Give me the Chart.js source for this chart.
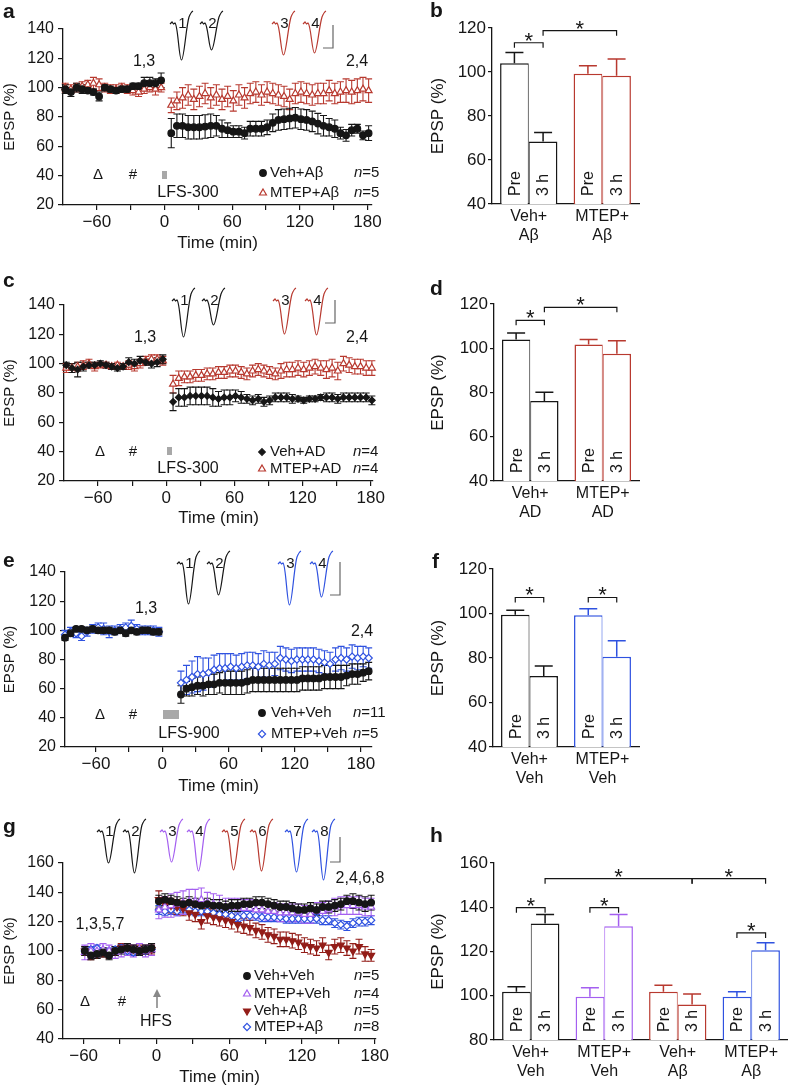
<!DOCTYPE html>
<html>
<head>
<meta charset="utf-8">
<script src="https://cdn.jsdelivr.net/npm/chart.js@4.4.1/dist/chart.umd.min.js"></script>
<style>
  body { margin: 0; background: #fff; width: 788px; height: 1089px; position: relative; overflow: hidden; }
  canvas { position: absolute; }
</style>
</head>
<body>
<canvas id="ca" width="400" height="268" style="left:0;top:0"></canvas>
<canvas id="cb" width="388" height="268" style="left:400px;top:0"></canvas>
<canvas id="cc" width="400" height="270" style="left:0;top:270px"></canvas>
<canvas id="cd" width="388" height="270" style="left:400px;top:270px"></canvas>
<canvas id="ce" width="400" height="270" style="left:0;top:540px"></canvas>
<canvas id="cf" width="388" height="270" style="left:400px;top:540px"></canvas>
<canvas id="cg" width="400" height="279" style="left:0;top:810px"></canvas>
<canvas id="ch" width="388" height="279" style="left:400px;top:810px"></canvas>
<script>
// --- time points (min) ---
const tPre = [-88, -83, -78, -73, -68, -63, -58, -53, -48, -43, -38, -33, -28, -23, -18, -13, -8, -3];
const tPost = [6, 11, 16, 21, 26, 31, 36, 41, 46, 51, 56, 61, 66, 71, 76, 81, 86, 91, 96, 101, 106, 111, 116, 121, 126, 131, 136, 141, 146, 151, 156, 161, 166, 171, 176, 181];
const ePost = [17, 22, 27, 32, 37, 42, 47, 52, 57, 62, 67, 72, 77, 82, 87, 92, 97, 102, 107, 112, 117, 122, 127, 132, 137, 142, 147, 152, 157, 162, 167, 172, 177, 182, 187];
const gPre = [-59, -54, -49, -44, -39, -34, -29, -24, -19, -14, -9, -4];
const gPost = [2, 7, 12, 17, 22, 27, 32, 37, 42, 47, 52, 57, 62, 67, 72, 77, 82, 87, 92, 97, 102, 107, 112, 117, 122, 127, 132, 137, 142, 147, 152, 157, 162, 167, 172, 177];

// --- panel a: Veh+Aβ / MTEP+Aβ, LFS-300 ---
const aVehPre = [99, 97, 100, 99, 98, 97, 94, 100, 99, 98, 99, 99, 101, 101, 103, 103, 103, 105];
const aVehPreErr = [3, 3, 3, 3, 2, 2, 3, 2, 2, 2, 2, 2, 2, 2, 4, 4, 3, 5];
const aVehPost = [69, 74, 74, 73, 73, 73, 73.5, 74, 74, 72, 71, 70, 70, 69, 72, 72, 72, 73, 76, 78, 78.5, 79, 79.5, 78.5, 78, 77, 75.5, 74, 73, 72, 69, 67.5, 71, 72, 67.5, 69];
const aVehPostErr = [10, 8, 8, 8, 8, 8, 8, 8, 7, 6, 5, 4, 4, 4, 5, 5, 5, 5, 6, 7, 7, 7, 7, 7, 7, 7, 7, 7, 6, 6, 4, 4, 4, 3, 3, 5];
const aMtepPre = [100, 99, 100, 101, 102, 103, 102, 100, 99, 99, 100, 99, 98, 97, 99, 100, 99, 100];
const aMtepPreErr = [3, 3, 3, 3, 3, 4, 4, 3, 3, 3, 3, 3, 3, 3, 3, 3, 4, 3];
const aMtepPost = [88, 91, 93, 95, 92, 94, 96, 93, 95, 92, 94, 91, 95, 93, 96, 97, 95, 97, 96, 95, 94, 92, 96, 97, 96, 95, 96, 96, 98, 96, 97, 98, 97, 98, 99, 98];
const aMtepPostErr = [5, 6, 7, 7, 7, 7, 7, 7, 7, 7, 7, 7, 7, 7, 7, 7, 7, 7, 7, 7, 7, 7, 7, 7, 7, 7, 7, 7, 7, 7, 7, 8, 8, 8, 8, 8];

// --- panel c: Veh+AD / MTEP+AD ---
const cVehPre = [99, 97, 96, 98, 99, 99, 100, 99, 98, 97, 98, 101, 100, 102, 101, 100, 101, 103];
const cVehPreErr = [2, 3, 5, 3, 2, 2, 2, 2, 2, 2, 2, 3, 3, 3, 2, 3, 3, 3];
const cVehPost = [74, 77, 77, 78, 78, 78, 78, 77, 76, 77, 77, 78, 77, 76, 75, 76, 74, 75, 77, 77, 77, 76, 76, 75, 76, 76, 77, 77, 77, 76, 77, 77, 77, 77, 77, 75];
const cVehPostErr = [6, 6, 6, 6, 6, 6, 6, 6, 5, 5, 5, 4, 4, 3, 3, 3, 3, 3, 3, 3, 3, 3, 2, 2, 2, 2, 2, 3, 3, 3, 3, 3, 3, 3, 3, 3];
const cMtepPre = [97, 97, 98, 99, 100, 98, 99, 99, 98, 99, 98, 99, 98, 100, 102, 103, 103, 102];
const cMtepPreErr = [3, 3, 3, 3, 3, 3, 2, 2, 2, 2, 2, 3, 3, 3, 3, 3, 3, 3];
const cMtepPost = [86, 90, 91, 91, 92, 92, 93, 93, 94, 94, 95, 95, 94, 93, 95, 96, 95, 94, 93, 95, 96, 96, 97, 96, 97, 98, 97, 96, 97, 95, 100, 99, 98, 98, 97, 97];
const cMtepPostErr = [6, 5, 4, 4, 4, 4, 4, 4, 4, 4, 4, 4, 4, 4, 4, 4, 4, 4, 4, 5, 5, 5, 5, 5, 5, 5, 5, 6, 6, 6, 5, 5, 5, 5, 5, 5];

// --- panel e: Veh+Veh / MTEP+Veh, LFS-900 ---
const eVehPre = [95, 98, 101, 101, 100, 101, 100, 100, 100, 99, 100, 98, 100, 99, 100, 100, 99, 99];
const eVehPreErr = [2, 2, 1, 1, 2, 2, 2, 2, 2, 2, 2, 2, 2, 2, 2, 2, 2, 2];
const eVehPost = [56, 60, 61, 62, 62, 63, 63, 64, 64, 64, 64, 64, 65, 66, 66, 66, 66, 66, 66, 66, 66, 66, 67, 67, 67, 67, 68, 68, 68, 68, 69, 70, 70, 71, 72];
const eVehPostErr = [6, 5, 6, 6, 7, 7, 7, 7, 8, 8, 8, 8, 8, 8, 8, 8, 8, 8, 8, 8, 8, 8, 8, 8, 8, 8, 8, 8, 8, 8, 7, 7, 7, 6, 6];
const eMtepPre = [97, 99, 98, 96, 99, 101, 102, 101, 99, 100, 101, 102, 103, 101, 100, 100, 100, 99];
const eMtepPreErr = [3, 3, 3, 3, 3, 3, 3, 4, 4, 3, 3, 3, 4, 3, 3, 3, 3, 3];
const eMtepPost = [64, 66, 68, 70, 70, 71, 73, 74, 74, 75, 74, 75, 76, 76, 75, 77, 76, 77, 81, 80, 79, 80, 80, 80, 80, 79, 78, 77, 80, 81, 80, 82, 81, 82, 81];
const eMtepPostErr = [8, 10, 11, 12, 11, 10, 10, 10, 10, 9, 9, 9, 9, 9, 9, 9, 9, 8, 8, 8, 8, 8, 8, 8, 8, 8, 8, 8, 8, 8, 8, 8, 8, 7, 7];

// --- panel g: HFS, four groups ---
const gVehVehPre = [100, 97, 98, 99, 97, 100, 101, 102, 101, 100, 101, 102];
const gVehVehPreErr = [3, 3, 3, 3, 3, 3, 3, 3, 3, 3, 3, 3];
const gVehVehPost = [134, 135, 134, 133, 132, 133, 132, 131, 132, 131, 131, 130, 131, 131, 132, 132, 133, 133, 132, 131, 130, 130, 129, 128, 128, 129, 128, 130, 130, 131, 132, 134, 134, 133, 132, 133];
const gVehVehPostErr = [4, 4, 4, 4, 4, 4, 4, 4, 4, 4, 4, 4, 4, 4, 4, 4, 4, 4, 4, 4, 4, 4, 4, 4, 4, 4, 4, 4, 4, 4, 4, 4, 5, 5, 5, 5];
const gMtepVehPre = [99, 100, 100, 101, 100, 99, 100, 101, 100, 101, 100, 101];
const gMtepVehPreErr = [5, 5, 4, 4, 4, 4, 4, 4, 4, 4, 4, 4];
const gMtepVehPost = [128, 130, 131, 132, 133, 134, 134, 135, 133, 132, 131, 130, 130, 130, 129, 129, 128, 128, 127, 127, 126, 126, 126, 126, 125, 125, 127, 127, 128, 130, 131, 131, 131, 131, 130, 130];
const gMtepVehPostErr = [6, 7, 8, 8, 8, 8, 8, 8, 7, 7, 7, 6, 6, 6, 6, 6, 6, 6, 6, 6, 6, 6, 6, 6, 6, 6, 6, 6, 6, 6, 6, 6, 6, 6, 6, 6];
const gVehAbPre = [100, 97, 98, 99, 98, 100, 102, 102, 101, 101, 101, 101];
const gVehAbPreErr = [3, 3, 3, 3, 3, 3, 3, 3, 3, 3, 3, 3];
const gVehAbPost = [135, 132, 131, 130, 129, 126, 125, 120, 124, 123, 122, 121, 120, 118, 117, 116, 114, 113, 111, 110, 108, 108, 107, 106, 104, 103, 102, 104, 99, 103, 104, 102, 100, 103, 98, 97];
const gVehAbPostErr = [6, 5, 5, 5, 5, 5, 5, 5, 5, 5, 5, 5, 5, 5, 5, 5, 5, 5, 5, 5, 5, 5, 5, 5, 5, 5, 5, 5, 5, 5, 5, 5, 5, 5, 5, 4];
const gMtepAbPre = [100, 101, 102, 100, 100, 101, 102, 100, 99, 100, 100, 101];
const gMtepAbPreErr = [2, 2, 2, 2, 2, 2, 2, 2, 2, 2, 2, 2];
const gMtepAbPost = [128, 127, 128, 127, 129, 128, 127, 127, 127, 126, 125, 125, 124, 123, 124, 124, 124, 123, 123, 123, 123, 122, 122, 122, 122, 122, 122, 121, 121, 119, 118, 117, 119, 120, 120, 121];
const gMtepAbPostErr = [3, 3, 3, 3, 3, 3, 3, 3, 3, 3, 3, 3, 3, 3, 3, 3, 3, 3, 3, 3, 3, 3, 3, 3, 3, 3, 3, 3, 3, 3, 3, 3, 3, 3, 3, 3];

// --- bar panels (Pre / 3 h) ---
const bGroups = [['Veh+', 'Aβ'], ['MTEP+', 'Aβ']];
const bPre = [104, 99.2], bPreErr = [4.9, 3.6], b3h = [68.4, 98.3], b3hErr = [4.1, 7.6];
const dGroups = [['Veh+', 'AD'], ['MTEP+', 'AD']];
const dPre = [104, 101.7], dPreErr = [2.9, 2.3], d3h = [76.2, 97.5], d3hErr = [3.9, 5.9];
const fGroups = [['Veh+', 'Veh'], ['MTEP+', 'Veh']];
const fPre = [99.4, 99.2], fPreErr = [2.1, 2.9], f3h = [71.9, 80.6], f3hErr = [4.5, 7.2];
const hGroups = [['Veh+', 'Veh'], ['MTEP+', 'Veh'], ['Veh+', 'Aβ'], ['MTEP+', 'Aβ']];
const hPre = [101.8, 99.5, 101.8, 99.5], hPreErr = [2.3, 4.1, 3, 2.3];
const h3h = [132.6, 131.4, 96.1, 120.6], h3hErr = [4.1, 5.3, 4.7, 3.3];

// --- ticks ---
const xTickMarks = [-60, -30, 0, 30, 60, 90, 120, 150, 180];
const xTickLabels = [-60, 0, 60, 120, 180];
const yTicksLine = [20, 40, 60, 80, 100, 120, 140];
const yTicksG = [40, 60, 80, 100, 120, 140, 160];
const yTicksBar = [40, 60, 80, 100, 120];
const yTicksH = [80, 100, 120, 140, 160];

const FONT = '"Liberation Sans", Arial, Helvetica, sans-serif';
const K = '#161616', RED = '#b8392f', DRED = '#931d18', BLUE = '#2f52e0', PURP = '#a45ff0', GRAY = '#a8a8a8';
Chart.defaults.font.family = FONT;
Chart.defaults.color = K;

function fmt(v) { return v < 0 ? '\u2212' + Math.abs(v) : String(v); }

function marker(ctx, style, x, y, r, color, open, rot) {
  ctx.save();
  ctx.translate(x, y);
  ctx.rotate((rot || 0) * Math.PI / 180);
  ctx.beginPath();
  if (style === 'circle') ctx.arc(0, 0, r, 0, Math.PI * 2);
  else if (style === 'triangle') { ctx.moveTo(0, -r); ctx.lineTo(r * 0.866, r * 0.5); ctx.lineTo(-r * 0.866, r * 0.5); ctx.closePath(); }
  else { ctx.moveTo(0, -r); ctx.lineTo(r, 0); ctx.lineTo(0, r); ctx.lineTo(-r, 0); ctx.closePath(); }
  ctx.fillStyle = open ? '#fff' : color;
  ctx.fill();
  ctx.strokeStyle = color; ctx.lineWidth = 1.2;
  ctx.stroke();
  ctx.restore();
}

// small EPSP sample trace (inset decoration)
function trace(ctx, x, y, depth, color, label) {
  ctx.save();
  ctx.strokeStyle = color; ctx.lineWidth = 1.2;
  ctx.beginPath();
  ctx.moveTo(x, y + 1); ctx.lineTo(x + 2, y - 1); ctx.lineTo(x + 3.5, y + 1); ctx.lineTo(x + 5, y);
  ctx.bezierCurveTo(x + 8, y + 2, x + 9, y + depth, x + 11.5, y + depth);
  ctx.bezierCurveTo(x + 14, y + depth, x + 16, y + 4, x + 19, y - 6);
  ctx.quadraticCurveTo(x + 21, y - 11, x + 23, y - 12);
  ctx.stroke();
  ctx.fillStyle = K; ctx.font = '15px ' + FONT; ctx.textAlign = 'center'; ctx.textBaseline = 'middle';
  ctx.fillText(label, x + 12.5, y + 1);
  ctx.restore();
}

function scaleBar(ctx, s) {
  ctx.save();
  ctx.strokeStyle = '#666'; ctx.lineWidth = 1.2;
  ctx.beginPath(); ctx.moveTo(s.x, s.y1); ctx.lineTo(s.x, s.y2); ctx.lineTo(s.x - 10, s.y2); ctx.stroke();
  ctx.restore();
}

function linePanel(id, o) {
  const cv = document.getElementById(id);
  const W = cv.width, H = cv.height;
  const datasets = o.series.map(s => ({
    label: s.name,
    data: s.t.map((t, i) => ({ x: t, y: s.v[i] })),
    err: s.e,
    pointStyle: s.style,
    pointRotation: s.rot || 0,
    pointRadius: s.r,
    pointBorderWidth: 1.2,
    pointBorderColor: s.color,
    pointBackgroundColor: s.open ? '#fff' : s.color,
    showLine: false,
    clip: false
  }));
  const deco = {
    id: 'deco',
    beforeDatasetsDraw(chart) {
      const ctx = chart.ctx, ys = chart.scales.y;
      for (let i = chart.data.datasets.length - 1; i >= 0; i--) {
        const ds = chart.data.datasets[i], meta = chart.getDatasetMeta(i);
        ctx.save();
        ctx.strokeStyle = ds.pointBorderColor; ctx.lineWidth = 1.1;
        meta.data.forEach((pt, j) => {
          const v = ds.data[j].y, e = ds.err[j];
          const y1 = ys.getPixelForValue(v + e), y2 = ys.getPixelForValue(v - e);
          ctx.beginPath();
          ctx.moveTo(pt.x, y1); ctx.lineTo(pt.x, y2);
          ctx.moveTo(pt.x - 3.5, y1); ctx.lineTo(pt.x + 3.5, y1);
          ctx.moveTo(pt.x - 3.5, y2); ctx.lineTo(pt.x + 3.5, y2);
          ctx.stroke();
        });
        ctx.restore();
      }
    },
    afterDraw(chart) {
      const ctx = chart.ctx;
      ctx.save();
      ctx.fillStyle = K;
      ctx.font = 'bold 21px ' + FONT; ctx.textAlign = 'left'; ctx.textBaseline = 'alphabetic';
      ctx.fillText(o.letter, o.letterPos[0], o.letterPos[1]);
      ctx.textAlign = 'center'; ctx.textBaseline = 'middle';
      o.notes.forEach(n => { ctx.font = (n.s || 16) + 'px ' + FONT; ctx.fillText(n.t, n.x, n.y); });
      if (o.stim) { ctx.fillStyle = GRAY; ctx.fillRect(o.stim.x, o.stim.y, o.stim.w, o.stim.h); }
      if (o.arrow) {
        const a = o.arrow;
        ctx.strokeStyle = '#888'; ctx.fillStyle = '#888'; ctx.lineWidth = 1.6;
        ctx.beginPath(); ctx.moveTo(a.x, a.y2); ctx.lineTo(a.x, a.y1 + 5); ctx.stroke();
        ctx.beginPath(); ctx.moveTo(a.x, a.y1); ctx.lineTo(a.x + 4, a.y1 + 8); ctx.lineTo(a.x - 4, a.y1 + 8); ctx.closePath(); ctx.fill();
      }
      o.traces.forEach(tr => trace(ctx, tr[0], o.traceY, tr[1], tr[2], tr[3]));
      scaleBar(ctx, o.bar);
      // legend
      const L = o.legend;
      o.series.forEach((s, i) => {
        const y = L.rows[i];
        marker(ctx, s.style, L.mx, y, s.r, s.color, s.open, s.rot);
        ctx.fillStyle = K; ctx.textAlign = 'left'; ctx.textBaseline = 'middle';
        ctx.font = '15px ' + FONT;
        ctx.fillText(s.name, L.tx, y);
        ctx.font = 'italic 15px ' + FONT;
        ctx.fillText('n', L.nx, y);
        const w = ctx.measureText('n').width;
        ctx.font = '15px ' + FONT;
        ctx.fillText('=' + s.n, L.nx + w, y);
      });
      ctx.restore();
    }
  };
  new Chart(cv, {
    type: 'scatter',
    data: { datasets },
    options: {
      responsive: false, animation: false, devicePixelRatio: 1, events: [],
      layout: { padding: { left: 0, top: o.area.t, right: W - o.area.r, bottom: 0 } },
      plugins: { legend: { display: false }, tooltip: { enabled: false } },
      scales: {
        x: {
          type: 'linear', min: o.xMin, max: o.xMax,
          afterFit: sc => { sc.height = H - o.area.b; },
          afterBuildTicks: sc => { sc.ticks = xTickMarks.map(v => ({ value: v })); },
          ticks: { autoSkip: false, maxRotation: 0, padding: 2, font: { size: 17 }, color: K,
                   callback: v => xTickLabels.includes(v) ? fmt(v) : '' },
          grid: { drawOnChartArea: false, tickLength: 5, color: K, lineWidth: 1.2 },
          border: { color: K, width: 1.3 },
          title: { display: true, text: 'Time (min)', font: { size: 17 }, color: K,
                   padding: { top: 0, bottom: H - o.titleY - 10.2 } }
        },
        y: {
          min: o.yMin, max: o.yMax,
          afterFit: sc => { sc.width = o.area.l; },
          afterBuildTicks: sc => { sc.ticks = o.yTicks.map(v => ({ value: v })); },
          ticks: { padding: 4, font: { size: 16 }, color: K },
          grid: { drawOnChartArea: false, tickLength: 5, color: K, lineWidth: 1.2 },
          border: { color: K, width: 1.3 },
          title: { display: true, text: 'EPSP (%)', font: { size: 15 }, color: K, padding: { top: 1, bottom: 0 } }
        }
      }
    },
    plugins: [deco]
  });
}

function barPanel(id, o) {
  const cv = document.getElementById(id);
  const W = cv.width, H = cv.height;
  const deco = {
    id: 'bdeco',
    afterDatasetsDraw(chart) {
      const ctx = chart.ctx, ys = chart.scales.y;
      ctx.save();
      chart.data.datasets.forEach((ds, i) => {
        const meta = chart.getDatasetMeta(i);
        meta.data.forEach((el, j) => {
          const top = el.y, y2 = ys.getPixelForValue(ds.data[j] + ds.err[j]);
          ctx.strokeStyle = o.colors[j]; ctx.lineWidth = 1.5;
          ctx.beginPath();
          ctx.moveTo(el.x, top); ctx.lineTo(el.x, y2);
          ctx.moveTo(el.x - 9, y2); ctx.lineTo(el.x + 9, y2);
          ctx.stroke();
          ctx.save();
          ctx.translate(el.x, ys.bottom - 8);
          ctx.rotate(-Math.PI / 2);
          ctx.fillStyle = K; ctx.font = '16px ' + FONT; ctx.textAlign = 'left'; ctx.textBaseline = 'middle';
          ctx.fillText(ds.label, 0, 1);
          ctx.restore();
        });
      });
      ctx.strokeStyle = K; ctx.lineWidth = 1.2; ctx.fillStyle = K;
      o.brackets.forEach(b => {
        const xa = chart.getDatasetMeta(b.from[0]).data[b.from[1]].x;
        const xb = chart.getDatasetMeta(b.to[0]).data[b.to[1]].x;
        const y = ys.getPixelForValue(b.level);
        ctx.beginPath();
        ctx.moveTo(xa, y + 5); ctx.lineTo(xa, y); ctx.lineTo(xb, y); ctx.lineTo(xb, y + 5);
        ctx.stroke();
        ctx.font = '22px ' + FONT; ctx.textAlign = 'center'; ctx.textBaseline = 'alphabetic';
        ctx.fillText('*', (xa + xb) / 2, y + 5);
      });
      ctx.restore();
    },
    afterDraw(chart) {
      const ctx = chart.ctx;
      ctx.save();
      ctx.fillStyle = K; ctx.font = 'bold 21px ' + FONT; ctx.textAlign = 'left'; ctx.textBaseline = 'alphabetic';
      ctx.fillText(o.letter, o.letterPos[0], o.letterPos[1]);
      ctx.restore();
    }
  };
  new Chart(cv, {
    type: 'bar',
    data: {
      labels: o.groups,
      datasets: [
        { label: 'Pre', data: o.pre, err: o.preErr, backgroundColor: '#fff', borderColor: o.colors,
          borderWidth: { left: 1.5, top: 1.5, right: 1, bottom: 0 }, borderSkipped: 'start' },
        { label: '3 h', data: o.post, err: o.postErr, backgroundColor: '#fff', borderColor: o.colors,
          borderWidth: { left: 1, top: 1.5, right: 1.5, bottom: 0 }, borderSkipped: 'start' }
      ]
    },
    options: {
      responsive: false, animation: false, devicePixelRatio: 1, events: [],
      categoryPercentage: 0.78, barPercentage: 1,
      layout: { padding: { left: 28, top: o.area.t, right: W - o.area.r, bottom: 0 } },
      plugins: { legend: { display: false }, tooltip: { enabled: false } },
      scales: {
        x: {
          afterFit: sc => { sc.height = H - o.area.b; },
          ticks: { padding: 3, font: { size: 16, lineHeight: 1.2 }, color: K, maxRotation: 0, autoSkip: false },
          grid: { drawOnChartArea: false, drawTicks: false },
          border: { color: K, width: 1.3 }
        },
        y: {
          min: o.yMin, max: o.yMax,
          afterFit: sc => { sc.width = o.area.l - 28; },
          afterBuildTicks: sc => { sc.ticks = o.yTicks.map(v => ({ value: v })); },
          ticks: { padding: 2, font: { size: 17 }, color: K },
          grid: { drawOnChartArea: false, tickLength: 4, color: K, lineWidth: 1.2 },
          border: { color: K, width: 1.3 },
          title: { display: true, text: 'EPSP (%)', font: { size: 17 }, color: K, padding: { top: 0, bottom: 0 } }
        }
      }
    },
    plugins: [deco]
  });
}

// ---- a ----
linePanel('ca', {
  letter: 'a', letterPos: [3, 18],
  area: { l: 63, r: 372, t: 29, b: 205 }, titleY: 243,
  xMin: -90, xMax: 184, yMin: 20, yMax: 140, yTicks: yTicksLine,
  series: [
    { name: 'Veh+Aβ', n: 5, t: tPre.concat(tPost), v: aVehPre.concat(aVehPost), e: aVehPreErr.concat(aVehPostErr), style: 'circle', r: 3.3, color: K },
    { name: 'MTEP+Aβ', n: 5, t: tPre.concat(tPost), v: aMtepPre.concat(aMtepPost), e: aMtepPreErr.concat(aMtepPostErr), style: 'triangle', r: 4, color: RED, open: true }
  ],
  notes: [{ t: '1,3', x: 144, y: 62 }, { t: '2,4', x: 357, y: 62 }, { t: 'Δ', x: 98, y: 175, s: 15 }, { t: '#', x: 133, y: 175, s: 15 }, { t: 'LFS-300', x: 188, y: 193 }],
  stim: { x: 162, y: 171, w: 5, h: 8 },
  traceY: 23, traces: [[170, 37, K, '1'], [200, 27, K, '2'], [272, 32, RED, '3'], [303, 30, RED, '4']],
  bar: { x: 333, y1: 25, y2: 48 },
  legend: { mx: 263, tx: 270, nx: 354, rows: [173, 193] }
});

// ---- c ----
linePanel('cc', {
  letter: 'c', letterPos: [3, 17],
  area: { l: 64, r: 373, t: 35, b: 211 }, titleY: 248,
  xMin: -90, xMax: 182, yMin: 20, yMax: 140, yTicks: yTicksLine,
  series: [
    { name: 'Veh+AD', n: 4, t: tPre.concat(tPost), v: cVehPre.concat(cVehPost), e: cVehPreErr.concat(cVehPostErr), style: 'rectRot', r: 3.3, color: K },
    { name: 'MTEP+AD', n: 4, t: tPre.concat(tPost), v: cMtepPre.concat(cMtepPost), e: cMtepPreErr.concat(cMtepPostErr), style: 'triangle', r: 4, color: RED, open: true }
  ],
  notes: [{ t: '1,3', x: 145, y: 68 }, { t: '2,4', x: 357, y: 68 }, { t: 'Δ', x: 100, y: 182, s: 15 }, { t: '#', x: 133, y: 182, s: 15 }, { t: 'LFS-300', x: 188, y: 199 }],
  stim: { x: 167, y: 177, w: 5, h: 8 },
  traceY: 30, traces: [[172, 37, K, '1'], [202, 25, K, '2'], [273, 34, RED, '3'], [305, 35, RED, '4']],
  bar: { x: 335, y1: 30, y2: 53 },
  legend: { mx: 262, tx: 270, nx: 353, rows: [182, 199] }
});

// ---- e ----
linePanel('ce', {
  letter: 'e', letterPos: [3, 27],
  area: { l: 65, r: 372, t: 32, b: 207 }, titleY: 246,
  xMin: -88, xMax: 190, yMin: 20, yMax: 140, yTicks: yTicksLine,
  series: [
    { name: 'Veh+Veh', n: 11, t: tPre.concat(ePost), v: eVehPre.concat(eVehPost), e: eVehPreErr.concat(eVehPostErr), style: 'circle', r: 3.3, color: K },
    { name: 'MTEP+Veh', n: 5, t: tPre.concat(ePost), v: eMtepPre.concat(eMtepPost), e: eMtepPreErr.concat(eMtepPostErr), style: 'rectRot', r: 3.6, color: BLUE, open: true }
  ],
  notes: [{ t: '1,3', x: 146, y: 69 }, { t: '2,4', x: 362, y: 92 }, { t: 'Δ', x: 100, y: 175, s: 15 }, { t: '#', x: 133, y: 175, s: 15 }, { t: 'LFS-900', x: 189, y: 194 }],
  stim: { x: 163, y: 170, w: 16, h: 9 },
  traceY: 23, traces: [[177, 41, K, '1'], [207, 32, K, '2'], [278, 42, BLUE, '3'], [310, 34, BLUE, '4']],
  bar: { x: 340, y1: 22, y2: 55 },
  legend: { mx: 262, tx: 271, nx: 353, rows: [173, 194] }
});

// ---- g ----
linePanel('cg', {
  letter: 'g', letterPos: [3, 23],
  area: { l: 63, r: 376, t: 53, b: 229 }, titleY: 267,
  xMin: -77, xMax: 181, yMin: 40, yMax: 160, yTicks: yTicksG,
  series: [
    { name: 'Veh+Veh', n: 5, t: gPre.concat(gPost), v: gVehVehPre.concat(gVehVehPost), e: gVehVehPreErr.concat(gVehVehPostErr), style: 'circle', r: 3.3, color: K },
    { name: 'MTEP+Veh', n: 4, t: gPre.concat(gPost), v: gMtepVehPre.concat(gMtepVehPost), e: gMtepVehPreErr.concat(gMtepVehPostErr), style: 'triangle', r: 4, color: PURP, open: true },
    { name: 'Veh+Aβ', n: 5, t: gPre.concat(gPost), v: gVehAbPre.concat(gVehAbPost), e: gVehAbPreErr.concat(gVehAbPostErr), style: 'triangle', r: 4, rot: 180, color: DRED },
    { name: 'MTEP+Aβ', n: 8, t: gPre.concat(gPost), v: gMtepAbPre.concat(gMtepAbPost), e: gMtepAbPreErr.concat(gMtepAbPostErr), style: 'rectRot', r: 3.6, color: BLUE, open: true }
  ],
  notes: [{ t: '1,3,5,7', x: 100, y: 115 }, { t: '2,4,6,8', x: 360, y: 69 }, { t: 'Δ', x: 85, y: 192, s: 15 }, { t: '#', x: 122, y: 192, s: 15 }, { t: 'HFS', x: 156, y: 212 }],
  arrow: { x: 157, y1: 179, y2: 198 },
  traceY: 21, traces: [[97, 32, K, '1'], [123, 42, K, '2'], [160, 31, PURP, '3'], [187, 40, PURP, '4'], [222, 39, RED, '5'], [250, 40, RED, '6'], [285, 41, BLUE, '7'], [312, 49, BLUE, '8']],
  bar: { x: 340, y1: 27, y2: 52 },
  legend: { mx: 247, tx: 254, nx: 354, rows: [166, 184, 201, 217] }
});

// ---- b ----
barPanel('cb', {
  letter: 'b', letterPos: [30, 17],
  area: { l: 92, r: 239, t: 28, b: 204 },
  yMin: 40, yMax: 120, yTicks: yTicksBar,
  groups: bGroups, pre: bPre, preErr: bPreErr, post: b3h, postErr: b3hErr, colors: [K, RED],
  brackets: [{ from: [0, 0], to: [1, 0], level: 113.3 }, { from: [1, 0], to: [1, 1], level: 118.8 }]
});

// ---- d ----
barPanel('cd', {
  letter: 'd', letterPos: [30, 25],
  area: { l: 94, r: 239, t: 34, b: 211 },
  yMin: 40, yMax: 120, yTicks: yTicksBar,
  groups: dGroups, pre: dPre, preErr: dPreErr, post: d3h, postErr: d3hErr, colors: [K, RED],
  brackets: [{ from: [0, 0], to: [1, 0], level: 112.6 }, { from: [1, 0], to: [1, 1], level: 118.5 }]
});

// ---- f ----
barPanel('cf', {
  letter: 'f', letterPos: [32, 28],
  area: { l: 93, r: 239, t: 29, b: 207 },
  yMin: 40, yMax: 120, yTicks: yTicksBar,
  groups: fGroups, pre: fPre, preErr: fPreErr, post: f3h, postErr: f3hErr, colors: [K, BLUE],
  brackets: [{ from: [0, 0], to: [1, 0], level: 107.2 }, { from: [0, 1], to: [1, 1], level: 107.2 }]
});

// ---- h ----
barPanel('ch', {
  letter: 'h', letterPos: [30, 32],
  area: { l: 94, r: 388, t: 53, b: 230 },
  yMin: 80, yMax: 160, yTicks: yTicksH,
  groups: hGroups, pre: hPre, preErr: hPreErr, post: h3h, postErr: h3hErr, colors: [K, PURP, RED, BLUE],
  brackets: [
    { from: [0, 0], to: [1, 0], level: 139.8 }, { from: [0, 1], to: [1, 1], level: 139.8 },
    { from: [0, 3], to: [1, 3], level: 128.4 },
    { from: [1, 0], to: [1, 2], level: 152.9 }, { from: [1, 2], to: [1, 3], level: 152.9 }
  ]
});
</script>
</body>
</html>
